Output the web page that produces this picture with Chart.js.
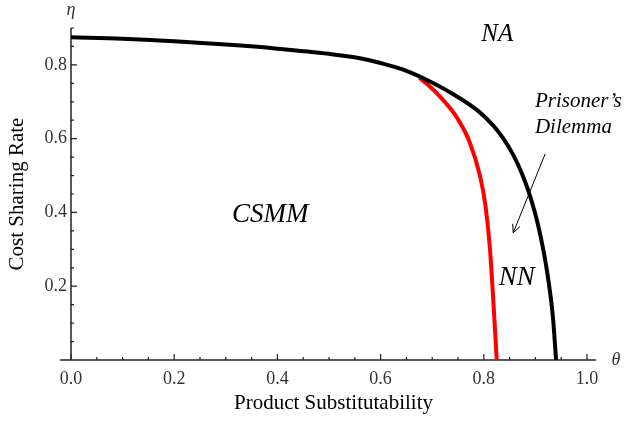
<!DOCTYPE html>
<html>
<head>
<meta charset="utf-8">
<script src="https://cdn.jsdelivr.net/npm/chart.js@4.4.1/dist/chart.umd.min.js"></script>
<style>
  html, body { margin: 0; padding: 0; background: #fff; }
</style>
</head>
<body>
<canvas id="chart" width="625" height="421"></canvas>
<script>
// Boundary curves: theta (x) vs eta (y)
const outerTheta = [0, 0.1, 0.2, 0.3, 0.4, 0.5, 0.56, 0.6, 0.65, 0.69, 0.74, 0.79, 0.818, 0.837, 0.857, 0.874, 0.886, 0.899, 0.909, 0.922, 0.934, 0.94];
const outerEta   = [0.875, 0.871, 0.864, 0.855, 0.844, 0.83, 0.818, 0.805, 0.784, 0.759, 0.721, 0.674, 0.636, 0.602, 0.556, 0.505, 0.46, 0.4, 0.342, 0.245, 0.115, 0];

const innerTheta = [0.675, 0.69, 0.715, 0.748, 0.773, 0.793, 0.803, 0.812, 0.818, 0.822, 0.825];
const innerEta   = [0.765, 0.748, 0.714, 0.657, 0.589, 0.497, 0.42, 0.299, 0.17, 0.075, 0];

// axis ticks
const xTicks = [0, 0.2, 0.4, 0.6, 0.8, 1.0];
const yTicks = [0.2, 0.4, 0.6, 0.8];
const xMinor = [0.05, 0.1, 0.15, 0.25, 0.3, 0.35, 0.45, 0.5, 0.55, 0.65, 0.7, 0.75, 0.85, 0.9, 0.95];
const yMinor = [0.05, 0.1, 0.15, 0.25, 0.3, 0.35, 0.45, 0.5, 0.55, 0.65, 0.7, 0.75, 0.85, 0.9];

// region labels, placed in data coordinates
const regionLabels = [
  { text: 'NA', x: 0.826, y: 0.882, size: 25, align: 'center' },
  { text: 'CSMM', x: 0.386, y: 0.394, size: 27, align: 'center' },
  { text: 'NN', x: 0.864, y: 0.223, size: 27, align: 'center' },
  { text: 'Prisoner\u2019s', x: 0.899, y: 0.700, size: 21, align: 'left' },
  { text: 'Dilemma', x: 0.899, y: 0.630, size: 21, align: 'left' }
];
const arrowFrom = { x: 0.919, y: 0.559 };
const arrowTo = { x: 0.857, y: 0.345 };

const toPoints = (xs, ys) => xs.map((v, i) => ({ x: v, y: ys[i] }));
const serif = "'Liberation Serif', 'Times New Roman', serif";

const decorations = {
  id: 'decorations',
  beforeDatasetsDraw(chart) {
    const { ctx, chartArea: a, scales: { x, y } } = chart;
    const x0 = x.getPixelForValue(0);
    const y0 = y.getPixelForValue(0);
    ctx.save();
    ctx.strokeStyle = '#222';
    ctx.lineWidth = 1.5;
    ctx.beginPath();
    ctx.moveTo(x0 - 11, y0);
    ctx.lineTo(a.right, y0);
    ctx.moveTo(x0, y0);
    ctx.lineTo(x0, a.top);
    ctx.stroke();

    ctx.lineWidth = 1.2;
    ctx.beginPath();
    xTicks.forEach(v => { const p = x.getPixelForValue(v); ctx.moveTo(p, y0); ctx.lineTo(p, y0 - 6); });
    xMinor.forEach(v => { const p = x.getPixelForValue(v); ctx.moveTo(p, y0); ctx.lineTo(p, y0 - 3); });
    yTicks.forEach(v => { const p = y.getPixelForValue(v); ctx.moveTo(x0, p); ctx.lineTo(x0 + 6, p); });
    yMinor.forEach(v => { const p = y.getPixelForValue(v); ctx.moveTo(x0, p); ctx.lineTo(x0 + 3, p); });
    ctx.stroke();
    ctx.restore();
  },
  afterDraw(chart) {
    const { ctx, chartArea: a, scales: { x, y } } = chart;
    ctx.save();
    ctx.fillStyle = '#000';
    ctx.textBaseline = 'middle';
    regionLabels.forEach(l => {
      ctx.font = `italic ${l.size}px ${serif}`;
      ctx.textAlign = l.align;
      ctx.fillText(l.text, x.getPixelForValue(l.x), y.getPixelForValue(l.y));
    });

    // axis symbols
    ctx.fillStyle = '#333';
    ctx.font = `italic 18px ${serif}`;
    ctx.textAlign = 'center';
    ctx.fillText('\u03b7', x.getPixelForValue(0), a.top - 18);
    ctx.fillText('\u03b8', a.right + 20, y.getPixelForValue(0));

    // arrow pointing into the Prisoner's Dilemma band
    const fx = x.getPixelForValue(arrowFrom.x), fy = y.getPixelForValue(arrowFrom.y);
    const tx = x.getPixelForValue(arrowTo.x), ty = y.getPixelForValue(arrowTo.y);
    const ang = Math.atan2(ty - fy, tx - fx);
    ctx.strokeStyle = '#000';
    ctx.lineWidth = 1;
    ctx.beginPath();
    ctx.moveTo(fx, fy);
    ctx.lineTo(tx, ty);
    ctx.moveTo(tx - 9 * Math.cos(ang - 0.45), ty - 9 * Math.sin(ang - 0.45));
    ctx.lineTo(tx, ty);
    ctx.lineTo(tx - 9 * Math.cos(ang + 0.45), ty - 9 * Math.sin(ang + 0.45));
    ctx.stroke();
    ctx.restore();
  }
};

new Chart(document.getElementById('chart'), {
  type: 'line',
  data: {
    datasets: [
      {
        data: toPoints(outerTheta, outerEta),
        borderColor: '#000',
        borderWidth: 4,
        pointRadius: 0,
        cubicInterpolationMode: 'monotone'
      },
      {
        data: toPoints(innerTheta, innerEta),
        borderColor: '#ff0000',
        borderWidth: 4,
        pointRadius: 0,
        cubicInterpolationMode: 'monotone'
      }
    ]
  },
  options: {
    responsive: false,
    animation: false,
    layout: { padding: { top: 28, right: 29, left: 0, bottom: 0 } },
    plugins: { legend: { display: false }, tooltip: { enabled: false } },
    scales: {
      x: {
        type: 'linear',
        min: 0,
        max: 1.0174,
        afterFit: s => { s.height = 61; },
        afterBuildTicks: s => { s.ticks = xTicks.map(v => ({ value: v })); },
        grid: { display: false, drawTicks: false },
        border: { display: false },
        ticks: {
          padding: 8,
          color: '#333',
          font: { family: serif, size: 18 },
          callback: v => Number(v).toFixed(1)
        },
        title: {
          display: true,
          text: 'Product Substitutability',
          color: '#000',
          font: { family: serif, size: 21 },
          padding: { top: 0, bottom: 5 }
        }
      },
      y: {
        min: 0,
        max: 0.9,
        afterFit: s => { s.width = 71; },
        afterBuildTicks: s => { s.ticks = yTicks.map(v => ({ value: v })); },
        grid: { display: false, drawTicks: false },
        border: { display: false },
        ticks: {
          padding: 4,
          color: '#333',
          font: { family: serif, size: 18 },
          callback: v => Number(v).toFixed(1)
        },
        title: {
          display: true,
          text: 'Cost Sharing Rate',
          color: '#000',
          font: { family: serif, size: 21 },
          padding: { top: 5, bottom: 0 }
        }
      }
    }
  },
  plugins: [decorations]
});
</script>
</body>
</html>
